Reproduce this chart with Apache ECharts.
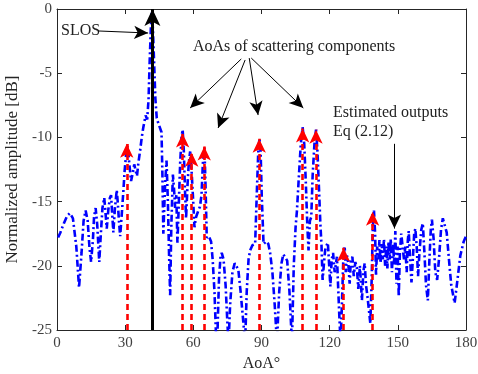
<!DOCTYPE html>
<html>
<head>
<meta charset="utf-8">
<script src="https://cdn.jsdelivr.net/npm/echarts@6/dist/echarts.min.js"></script>
<style>
html,body{margin:0;padding:0;background:#fff;}
#chart{width:478px;height:374px;}
</style>
</head>
<body>
<div id="chart"></div>
<script>
// Blue spectrum (AoA in degrees, normalized amplitude in dB)
const aoa = [0.5,1.5,3,4.5,5.7,7,8.5,9.7,10.8,11.7,12.6,13.5,14.3,15,15.8,16.3,17,17.7,18.6,19.3,20,20.8,21.4,21.9,22.6,23.3,23.8,24.3,24.8,25.5,26.3,26.8,27.3,27.8,28.5,29.2,29.8,30.5,31.1,31.8,32.6,33.3,34,34.6,35.2,35.8,36.6,37.3,38,39,39.7,40.3,40.8,41.3,41.7,42.2,42.7,43.3,43.9,44.6,45.4,46,46.4,46.8,47.5,48.2,48.8,49.3,49.8,50.3,51,51.5,52,52.5,53,53.6,54.2,54.8,55.3,55.8,56.3,56.8,57.5,58,58.6,59.2,59.8,60.5,61.2,62.2,62.9,63.6,64.2,64.9,65.4,65.9,66.8,67.8,68.5,69.3,70,70.5,71.3,72,72.5,73.3,74.2,75,75.5,76.2,77.2,78.2,79,79.8,80.8,81.8,82.8,83.5,84.3,85,86,87.2,88,88.6,89.1,89.6,90.1,90.9,92,93,93.8,94.8,95.8,96.8,97.8,98.8,99.6,100.4,101.3,102.3,103.4,104.2,105,105.6,106.3,107.3,108.1,108.8,109.5,110.2,110.7,111.3,111.9,112.5,113.3,114,114.6,115.3,115.9,116.4,116.9,117.4,118,118.4,119.2,119.8,120.3,120.9,121.5,122.2,123.2,123.7,124.2,124.8,125.4,126,126.6,127.1,127.6,128.2,128.8,129.3,130,130.6,131.3,132,132.6,133.3,134.2,134.8,135.4,136,136.7,137.3,137.9,138.5,139,139.5,140,140.4,140.9,141.4,141.9,142.4,142.9,143.4,143.9,144.4,144.9,145.4,145.9,146.4,146.9,147.4,147.9,148.4,148.9,149.4,149.9,150.4,150.9,151.5,152.1,152.7,153.3,153.9,154.4,154.8,155.4,156,156.6,157.2,157.7,158.3,158.9,159.5,160.3,161,161.7,162.4,163.2,163.9,164.5,165,165.7,166.5,167.3,168.1,169,169.8,170.6,171.5,172.5,173.5,175,176.3,177.5,179,180];
const amp = [-17.8,-17.4,-16.7,-16.1,-15.9,-16.3,-18.5,-21.7,-19,-16.5,-15.7,-16.5,-18.6,-19.7,-18,-16.2,-15.5,-16.8,-19.7,-17.5,-15.5,-14.7,-16,-17.1,-15.6,-14.7,-14.5,-16,-17.4,-15.5,-14.1,-15.2,-16.6,-17.7,-16,-14.2,-12.5,-11.2,-10.7,-12,-13.4,-12.8,-12.1,-12.6,-13,-12,-11,-10,-9.2,-8.3,-8.6,-7,-4,-1.5,-0.3,-1.5,-4,-7,-8.5,-8.9,-8.9,-9.6,-13,-17.5,-14,-11.8,-15,-19,-22.3,-17,-12.9,-14,-15.5,-14.5,-18.2,-15.2,-12,-10,-9.4,-11,-14,-16.3,-13.5,-12,-11.1,-12.5,-14.5,-17,-16.2,-15.7,-15.4,-14.5,-12,-10.8,-14,-17.8,-17.7,-18.1,-19.5,-22,-25.5,-26,-21,-19.2,-19,-19.5,-21.5,-24.5,-26,-23,-20.5,-19.8,-19.8,-20.3,-22,-24,-26,-22,-19.5,-18.8,-18.4,-18.3,-14,-11,-10.1,-11,-14.5,-18.3,-18.1,-18.3,-19,-20.5,-23,-26,-22,-19.8,-19.1,-19,-19.6,-22,-26,-20,-17,-15.7,-13.5,-10.5,-9.2,-10.5,-13.5,-17,-18.8,-16.5,-16.2,-13,-10.5,-9.4,-11,-14,-16.7,-18.4,-21.1,-20,-18.8,-18.5,-18.2,-20,-21.6,-19.5,-19,-20.5,-19.3,-21.5,-23.7,-26,-23,-19.5,-18.5,-20.5,-19.2,-19.8,-21.4,-19.6,-19.3,-20.8,-19.7,-20.2,-21.8,-20,-22.7,-20.5,-19.8,-21.5,-22.5,-23.5,-24.5,-21,-17,-15.7,-17.5,-20.7,-18.5,-19.5,-18,-19.8,-18.3,-19.5,-17.9,-20,-18.5,-20.2,-18.1,-19.5,-17.9,-20.5,-18.3,-19.9,-17.3,-21.4,-18.5,-22.4,-19,-17.5,-17.5,-19.5,-18.5,-20.5,-18,-17.3,-19.5,-21.3,-19.5,-17.5,-17.1,-18.5,-20.8,-19,-17.2,-16.7,-19,-21.5,-22.7,-19.5,-17.2,-16.4,-17.8,-20.5,-21.1,-19.5,-17.2,-16.3,-16.3,-17.4,-19.5,-21.5,-22.9,-21,-19.2,-18.1,-17.7];

// Estimated AoAs of scattering components (red stems)
const stemAoA = [30.7, 55.3, 59.3, 64.8, 89.0, 108.1, 114.0, 126.1, 138.9];
const stemAmp = [-10.5, -9.7, -11.2, -10.7, -10.1, -9.3, -9.4, -18.6, -15.8];

// SLOS
const slosAoA = 42;
const slosAmp = 0;

// Axes
const xTicks = [0, 30, 60, 90, 120, 150, 180];
const yTicks = [-25, -20, -15, -10, -5, 0];

const FONT = '"Liberation Serif", "DejaVu Serif", serif';
const AX = '#262626';

const chart = echarts.init(document.getElementById('chart'));

const blueData = aoa.map((x, i) => [x, amp[i]]);

function arrowPair(from, to, size) {
  return [
    { coord: from, symbol: 'none' },
    { coord: to, symbol: 'arrow', symbolSize: size }
  ];
}

const stemLines = stemAoA.map((x, i) => arrowPair([x, yTicks[0]], [x, stemAmp[i]], [10, 14]));
const slosLine = [arrowPair([slosAoA, yTicks[0]], [slosAoA, slosAmp], [12, 17])];
const annArrows = [
  [[18.1, -1.71], [40.1, -1.87]],
  [[81.1, -3.89], [58.6, -7.71]],
  [[82.8, -3.97], [70.9, -9.27]],
  [[84.6, -3.82], [88.5, -8.26]],
  [[85.5, -3.82], [108.4, -7.71]],
  [[148.5, -10.5], [148.5, -17.1]]
].map(c => arrowPair(c[0], c[1], [10, 14]));

const baseAxis = {
  axisLine: { show: true, onZero: false, lineStyle: { color: AX, width: 1 } },
  axisTick: { show: true, inside: true, length: 5, lineStyle: { color: AX } },
  splitLine: { show: false }
};

function arrowML(data, color, width, type) {
  return {
    silent: true, animation: false,
    symbol: ['none', 'arrow'],
    label: { show: false },
    emphasis: { disabled: true },
    lineStyle: { color: color, width: width, type: type, opacity: 1 },
    data: data
  };
}

chart.setOption({
  animation: false,
  grid: { left: 57, right: 12, top: 9, bottom: 44, outerBoundsMode: 'none', containLabel: false },
  xAxis: [
    Object.assign({}, baseAxis, {
      type: 'value', min: xTicks[0], max: xTicks[xTicks.length - 1], interval: 30,
      name: 'AoA°', nameLocation: 'middle', nameGap: 25,
      nameTextStyle: { fontFamily: FONT, fontSize: 16, color: AX },
      axisLabel: { fontFamily: FONT, fontSize: 15, color: '#404040', margin: 6 }
    }),
    Object.assign({}, baseAxis, {
      type: 'value', position: 'top', min: xTicks[0], max: xTicks[xTicks.length - 1], interval: 30,
      axisLabel: { show: false }
    })
  ],
  yAxis: [
    Object.assign({}, baseAxis, {
      type: 'value', min: yTicks[0], max: yTicks[yTicks.length - 1], interval: 5,
      name: 'Normalized amplitude [dB]', nameLocation: 'middle', nameGap: 27,
      nameTextStyle: { fontFamily: FONT, fontSize: 17, color: AX },
      axisLabel: { fontFamily: FONT, fontSize: 15, color: '#404040', margin: 5 }
    }),
    Object.assign({}, baseAxis, {
      type: 'value', position: 'right', min: yTicks[0], max: yTicks[yTicks.length - 1], interval: 5,
      axisLabel: { show: false }
    })
  ],
  series: [
    {
      type: 'line', data: blueData, showSymbol: false, symbol: 'none', clip: true,
      lineStyle: { color: '#0000ff', width: 2.6, type: [7, 3, 2, 3] }, z: 2,
      silent: true
    },
    {
      type: 'line', data: [], z: 3,
      markLine: arrowML(stemLines, '#ff0000', 2.6, [6, 4])
    },
    {
      type: 'line', data: [], z: 4,
      markLine: arrowML(slosLine, '#000000', 3, 'solid')
    },
    {
      type: 'line', data: [], z: 4,
      markLine: arrowML(annArrows, '#000000', 1, 'solid')
    }
  ],
  graphic: [
    { type: 'text', left: 61, top: 23, style: { text: 'SLOS', font: '16px ' + FONT, fill: '#222' } },
    { type: 'text', left: 193, top: 39, style: { text: 'AoAs of scattering components', font: '16px ' + FONT, fill: '#222' } },
    { type: 'text', left: 333, top: 105, style: { text: 'Estimated outputs', font: '16px ' + FONT, fill: '#222' } },
    { type: 'text', left: 333, top: 124, style: { text: 'Eq (2.12)', font: '16px ' + FONT, fill: '#222' } }
  ]
});
</script>
</body>
</html>
